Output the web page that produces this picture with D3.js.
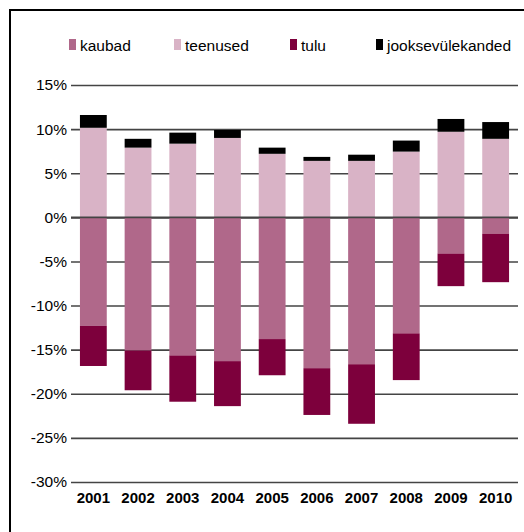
<!DOCTYPE html>
<html>
<head>
<meta charset="utf-8">
<script src="https://cdn.jsdelivr.net/npm/d3@7"></script>
<style>
  body { margin: 0; background: #fff; }
  svg text { font-family: "Liberation Sans", Arial, Helvetica, sans-serif; fill: #000; }
</style>
</head>
<body>
<div id="chart"></div>
<script>
// data (percent)
var years = ["2001", "2002", "2003", "2004", "2005", "2006", "2007", "2008", "2009", "2010"];
var kaubad = [-12.3, -15.1, -15.65, -16.3, -13.8, -17.1, -16.65, -13.15, -4.1, -1.85];
var teenused = [10.15, 7.9, 8.35, 9.0, 7.2, 6.4, 6.4, 7.45, 9.7, 8.9];
var tulu = [-4.55, -4.5, -5.25, -5.1, -4.1, -5.3, -6.75, -5.3, -3.7, -5.5];
var jooksev = [1.45, 1.0, 1.25, 0.9, 0.7, 0.45, 0.7, 1.25, 1.45, 1.9];
var yTicks = [-30, -25, -20, -15, -10, -5, 0, 5, 10, 15];

var keys = ["kaubad", "teenused", "tulu", "jooksevülekanded"];
var colors = ["#b0688a", "#d9b3c6", "#7d003c", "#000000"];

var rows = years.map(function (y, i) {
    return { year: y, "kaubad": kaubad[i], "teenused": teenused[i], "tulu": tulu[i], "jooksevülekanded": jooksev[i] };
});

var width = 524, height = 532;
var svg = d3.select("#chart").append("svg")
    .attr("width", width)
    .attr("height", height);

// frame
svg.append("rect")
    .attr("x", 10).attr("y", 10)
    .attr("width", 600).attr("height", 600)
    .attr("fill", "none")
    .attr("stroke", "#000")
    .attr("stroke-width", 2);

var x = d3.scaleBand()
    .domain(years)
    .range([71, 518])
    .paddingInner(0.4)
    .paddingOuter(0.2);

var y = d3.scaleLinear()
    .domain([-30, 15])
    .range([482, 85]);

// grid + y labels
var yAxis = svg.append("g")
    .attr("transform", "translate(71,0)")
    .call(d3.axisLeft(y)
        .tickValues(yTicks)
        .tickSize(-(518 - 71))
        .tickPadding(4)
        .tickFormat(function (d) { return d + "%"; }));
yAxis.select(".domain").remove();
yAxis.selectAll("line").attr("stroke", "#444").attr("stroke-width", 1.6);
yAxis.selectAll("text")
    .attr("font-size", "15.5px")
    .attr("font-family", "'Liberation Sans', Arial, sans-serif")
    .attr("fill", "#000");

var stack = d3.stack().keys(keys).offset(d3.stackOffsetDiverging);
var series = stack(rows);

svg.append("g").selectAll("g")
    .data(series)
    .enter().append("g")
    .attr("fill", function (d, i) { return colors[i]; })
    .selectAll("rect")
    .data(function (d) { return d; })
    .enter().append("rect")
    .attr("x", function (d) { return x(d.data.year); })
    .attr("width", x.bandwidth())
    .attr("y", function (d) { return y(Math.max(d[0], d[1])); })
    .attr("height", function (d) { return Math.abs(y(d[0]) - y(d[1])); });

// zero line on top
svg.append("line")
    .attr("x1", 71).attr("x2", 518)
    .attr("y1", y(0)).attr("y2", y(0))
    .attr("stroke", "#444")
    .attr("stroke-width", 1.6);

// x labels
var xAxis = svg.append("g")
    .attr("transform", "translate(0," + y(-30) + ")")
    .call(d3.axisBottom(x).tickSize(0).tickPadding(10));
xAxis.select(".domain").remove();
xAxis.selectAll("text")
    .attr("font-size", "15px")
    .attr("font-weight", "bold")
    .attr("font-family", "'Liberation Sans', Arial, sans-serif")
    .attr("fill", "#000");

// legend
var legendX = [69, 174, 290, 376];
var legend = svg.append("g").selectAll("g")
    .data(keys)
    .enter().append("g")
    .attr("transform", function (d, i) { return "translate(" + legendX[i] + ",39)"; });
legend.append("rect")
    .attr("width", 7).attr("height", 11)
    .attr("fill", function (d, i) { return colors[i]; });
legend.append("text")
    .attr("x", 11).attr("y", 12)
    .attr("font-size", "15.5px")
    .text(function (d) { return d; });
</script>
</body>
</html>
